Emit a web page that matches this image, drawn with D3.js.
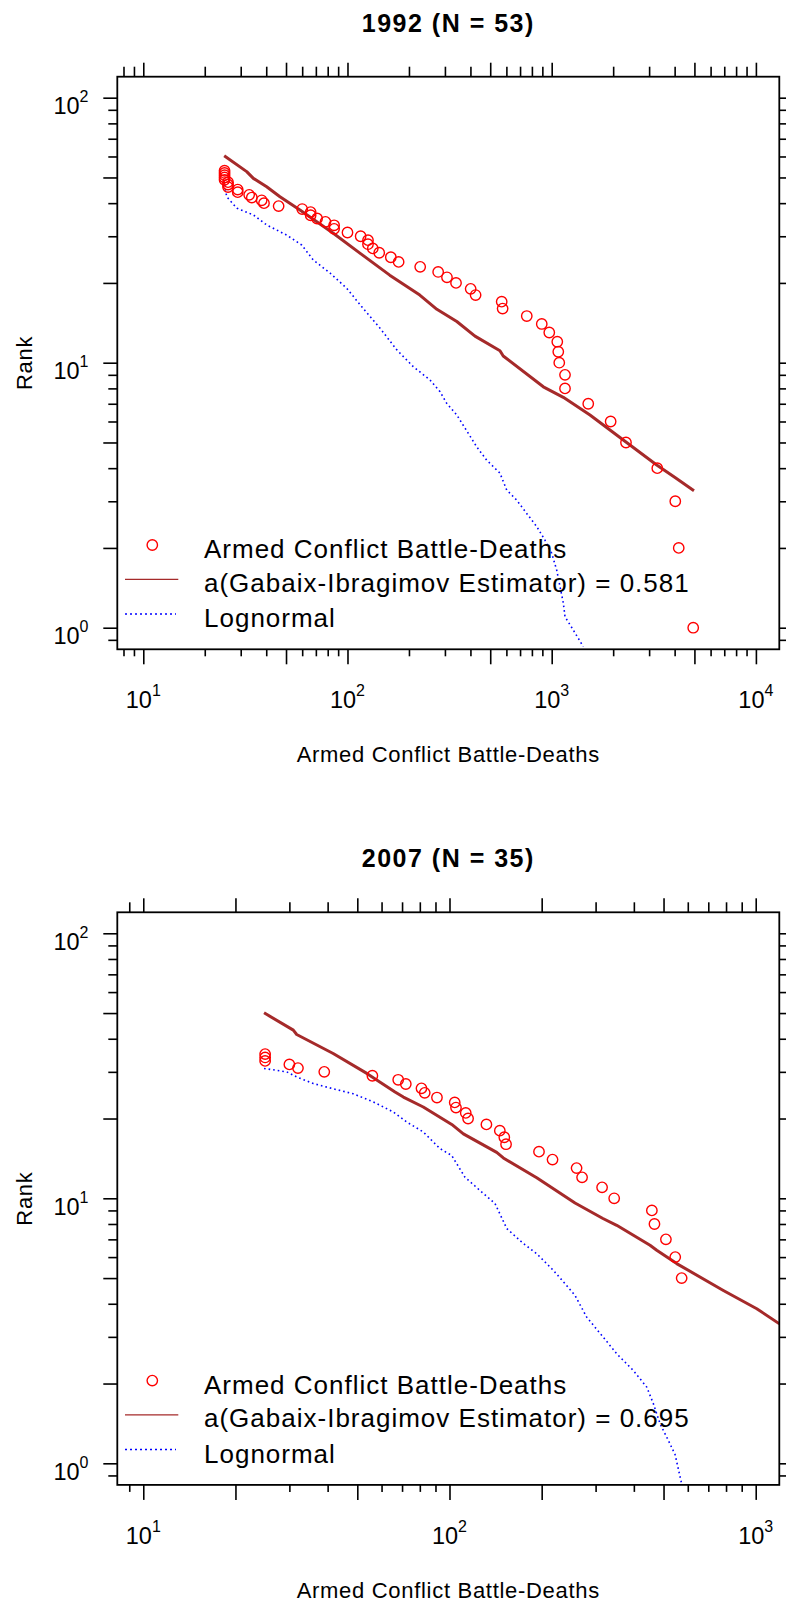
<!DOCTYPE html>
<html>
<head>
<meta charset="utf-8">
<script src="https://cdn.jsdelivr.net/npm/d3@7"></script>
<style>
    body { margin: 0; background: #fff; }
    text { font-family: "Liberation Sans", Arial, Helvetica, sans-serif; fill: #000; }
</style>
</head>
<body>
<svg id="chart" width="786" height="1603" viewBox="0 0 786 1603"></svg>
<script>
// ---- 1992 ----
const ranks1992 = [1, 2, 3, 4, 5, 6, 7, 8, 9, 10, 11, 12, 13, 14, 15, 16, 17, 18, 19, 20,
    21, 22, 23, 24, 25, 26, 27, 28, 29, 30, 31, 32, 33, 34, 35, 36, 37, 38, 39, 40,
    41, 42, 43, 44, 45, 46, 47, 48, 49, 50, 51, 52, 53];
const deaths1992 = [4932, 4189, 4029, 3289, 2311, 1944, 1510, 1162, 1162, 1089, 1077, 1065, 973, 894, 755, 575, 569, 424, 401, 340,
    307, 278, 227, 178, 163, 143, 133, 126, 126, 116, 100, 86, 86, 78, 71, 66, 66, 60, 46, 39,
    38, 34, 33, 29, 29, 26, 26, 26, 25, 25, 25, 25, 25];
const gabaixDeaths1992 = [24.9, 32.1, 34.6, 40.2, 46.7, 58.5, 85.2, 115, 161, 226, 274, 343, 421, 558, 579, 910, 1140, 1540, 2242, 3268, 4018, 4975];
const gabaixRank1992 = [60.4, 52.6, 49.6, 46.1, 42.3, 37.7, 30.8, 25.9, 21.4, 18.0, 15.9, 14.3, 12.6, 11.1, 10.6, 8.11, 7.40, 6.35, 5.11, 4.11, 3.69, 3.29];
const lognormDeaths1992 = [24.8, 25.6, 28.7, 34.6, 40.2, 50.4, 59.7, 68.0, 82.1, 99.1, 119.5, 144.3, 174, 210, 253.5, 284, 306, 343,
    390, 429, 480, 558, 602, 674, 754, 844, 927, 1000, 1058, 1098, 1140, 1162, 1276, 1428];
const lognormRank1992 = [48.9, 42.3, 38.3, 36.1, 33.1, 30.3, 27.8, 24.4, 21.8, 19.1, 16.0, 13.5, 11.2, 9.66, 8.60, 7.77, 7.03, 6.35,
    5.42, 4.82, 4.29, 3.83, 3.31, 3.03, 2.70, 2.41, 2.14, 1.91, 1.65, 1.43, 1.24, 1.10, 0.98, 0.848];
const legend1992 = ["Armed Conflict Battle-Deaths", "a(Gabaix-Ibragimov Estimator) = 0.581", "Lognormal"];

// ---- 2007 ----
const ranks2007 = [5, 6, 7, 8, 9, 10, 11, 12, 13, 14, 15, 16, 17, 18, 19, 20,
    21, 22, 23, 24, 25, 26, 27, 28, 29, 30, 31, 32, 33, 34, 35];
const deaths2007 = [573, 546, 509, 467, 458, 345, 315, 271, 260, 217, 196, 153, 151, 146, 132, 115,
    113, 105, 104, 91, 83, 81, 72, 68, 56, 39, 32, 30, 25, 25, 25];
const gabaixDeaths2007 = [24.8, 30.9, 31.7, 41.7, 53.7, 66.4, 70.7, 82.1, 101.7, 111, 142.6, 149.9, 192.7, 257, 317, 351.6, 451.7, 475, 552, 784, 1008, 1195];
const gabaixRank2007 = [50.1, 43.1, 41.5, 35.2, 29.6, 25.2, 24.1, 22.1, 19.0, 17.5, 14.9, 14.2, 11.95, 9.6, 8.39, 7.91, 6.65, 6.37, 5.67, 4.49, 3.83, 3.36];
const lognormDeaths2007 = [24.8, 29.4, 31.7, 35.9, 41.7, 48.5, 56.4, 65.4, 72.5, 82.1, 93.1, 101.7, 105.6, 112.4, 125.8, 140.8,
    153.8, 174.2, 192.7, 218.3, 238.4, 257, 280.6, 317.9, 351.6, 398.4, 440.6, 463.1, 487.1, 518.4, 545.2, 573.3];
const lognormRank2007 = [30.9, 30.0, 28.7, 27.1, 25.9, 24.8, 23.1, 21.2, 19.4, 17.8, 15.4, 14.5, 13.5, 12.0, 10.7, 9.56,
    7.69, 6.75, 6.18, 5.35, 4.76, 4.30, 3.56, 2.99, 2.59, 2.24, 1.94, 1.68, 1.41, 1.22, 1.08, 0.835];
const legend2007 = ["Armed Conflict Battle-Deaths", "a(Gabaix-Ibragimov Estimator) = 0.695", "Lognormal"];

const xLabel = "Armed Conflict Battle-Deaths";
const yLabel = "Rank";

const svg = d3.select("#chart");
const left = 117.3, right = 779.3;
const red = "#ff0000", brown = "#a52a2a", blue = "#0000ff";

function logTicks(domain, mults) {
    const out = [];
    const lo = Math.min(...domain), hi = Math.max(...domain);
    for (let e = Math.floor(Math.log10(lo)); e <= Math.ceil(Math.log10(hi)); e++) {
        mults.forEach(m => {
            const v = m * Math.pow(10, e);
            if (v >= lo && v <= hi) out.push(v);
        });
    }
    return out;
}

function drawTicks(g, axisFn, scale, domain, major, lenMinor, lenMajor) {
    const minor = [1, 2, 3, 4, 5, 6, 7, 8, 9].filter(m => major.indexOf(m) < 0);
    [[minor, lenMinor], [major, lenMajor]].forEach(([mults, len]) => {
        g.append("g")
            .call(axisFn(scale).tickValues(logTicks(domain, mults)).tickSize(len).tickFormat(""))
            .call(a => a.select(".domain").remove())
            .selectAll("line").attr("stroke", "#000").attr("stroke-width", 1.6);
    });
}

function drawPanel(p, idx) {
    const top = 76.7 + p.off, bottom = 649.3 + p.off;
    const x = d3.scaleLog().domain(p.xDomain).range([left, right]);
    const yDomain = [0.829, 120];
    const y = d3.scaleLog().domain(yDomain).range([bottom, top]);
    const yMajor = [1, 2, 5];

    const g = svg.append("g");

    // title
    g.append("text")
        .attr("x", (left + right) / 2).attr("y", 31.7 + p.off)
        .attr("text-anchor", "middle")
        .style("font-size", "25px").style("font-weight", "bold").style("letter-spacing", "1.5px")
        .text(p.title);

    // ticks on all four sides
    drawTicks(g.append("g").attr("transform", "translate(0," + bottom + ")"), d3.axisBottom, x, p.xDomain, p.xMajor, 7, 15);
    drawTicks(g.append("g").attr("transform", "translate(0," + top + ")"), d3.axisTop, x, p.xDomain, p.xMajor, 10, 14);
    drawTicks(g.append("g").attr("transform", "translate(" + left + ",0)"), d3.axisLeft, y, yDomain, yMajor, 9, 14);
    drawTicks(g.append("g").attr("transform", "translate(" + right + ",0)"), d3.axisRight, y, yDomain, yMajor, 7, 7);

    // tick labels 10^k
    const xDec = logTicks(p.xDomain, [1]);
    const xl = g.append("g").selectAll("text").data(xDec).enter().append("text")
        .attr("x", d => x(d)).attr("y", bottom + 59)
        .attr("text-anchor", "middle")
        .style("font-size", "23.5px");
    xl.append("tspan").text("10");
    xl.append("tspan").attr("dy", -12).style("font-size", "16px").text(d => Math.round(Math.log10(d)));

    const yDec = logTicks(yDomain, [1]);
    const yl = g.append("g").selectAll("text").data(yDec).enter().append("text")
        .attr("x", 88.5).attr("y", d => y(d) + 16.7)
        .attr("text-anchor", "end")
        .style("font-size", "23.5px");
    yl.append("tspan").text("10");
    yl.append("tspan").attr("dy", -12).style("font-size", "16px").text(d => Math.round(Math.log10(d)));

    // axis titles
    g.append("text")
        .attr("x", (left + right) / 2).attr("y", 762.3 + p.off)
        .attr("text-anchor", "middle")
        .style("font-size", "22px").style("letter-spacing", "0.7px")
        .text(xLabel);
    g.append("text")
        .attr("transform", "translate(31.7," + (363 + p.off) + ") rotate(-90)")
        .attr("text-anchor", "middle")
        .style("font-size", "22px").style("letter-spacing", "0.7px")
        .text(yLabel);

    // clip
    const clipId = "clip" + idx;
    svg.append("defs").append("clipPath").attr("id", clipId)
        .append("rect").attr("x", left).attr("y", top).attr("width", right - left).attr("height", bottom - top);
    const plot = g.append("g").attr("clip-path", "url(#" + clipId + ")");

    const line = d3.line().x(d => x(d[0])).y(d => y(d[1]));

    plot.append("path")
        .datum(p.lnX.map((v, i) => [v, p.lnY[i]]))
        .attr("d", line)
        .attr("fill", "none").attr("stroke", blue).attr("stroke-width", 1.6)
        .attr("stroke-dasharray", "1.6,3");

    plot.append("path")
        .datum(p.gX.map((v, i) => [v, p.gY[i]]))
        .attr("d", line)
        .attr("fill", "none").attr("stroke", brown).attr("stroke-width", 3)
        .attr("stroke-linejoin", "round");

    plot.selectAll("circle").data(p.deaths).enter().append("circle")
        .attr("cx", d => x(d)).attr("cy", (d, i) => y(p.ranks[i]))
        .attr("r", 5.2)
        .attr("fill", "none").attr("stroke", red).attr("stroke-width", 1.4);

    // box
    g.append("rect")
        .attr("x", left).attr("y", top).attr("width", right - left).attr("height", bottom - top)
        .attr("fill", "none").attr("stroke", "#000").attr("stroke-width", 1.8);

    // legend
    const lg = g.append("g").attr("transform", "translate(0," + p.off + ")");
    lg.append("circle").attr("cx", 152.3).attr("cy", 545).attr("r", 5.2)
        .attr("fill", "none").attr("stroke", red).attr("stroke-width", 1.4);
    lg.append("line").attr("x1", 125).attr("x2", 178.3).attr("y1", 579.3).attr("y2", 579.3)
        .attr("stroke", brown).attr("stroke-width", 1.3);
    lg.append("line").attr("x1", 125).attr("x2", 176).attr("y1", 614).attr("y2", 614)
        .attr("stroke", blue).attr("stroke-width", 1.5).attr("stroke-dasharray", "2,3");
    lg.selectAll("text.leg").data(p.legend).enter().append("text")
        .attr("class", "leg")
        .attr("x", 204).attr("y", (d, i) => [558.3, 591.7, 627.3][i])
        .style("font-size", "26px").style("letter-spacing", "1px")
        .text(d => d);
}

const panels = [
    { off: 0, title: "1992 (N = 53)", xDomain: [7.46, 13020], xMajor: [1, 5],
      ranks: ranks1992, deaths: deaths1992, gX: gabaixDeaths1992, gY: gabaixRank1992,
      lnX: lognormDeaths1992, lnY: lognormRank1992, legend: legend1992 },
    { off: 835.6, title: "2007 (N = 35)", xDomain: [8.226, 1194], xMajor: [1, 2, 5],
      ranks: ranks2007, deaths: deaths2007, gX: gabaixDeaths2007, gY: gabaixRank2007,
      lnX: lognormDeaths2007, lnY: lognormRank2007, legend: legend2007 }
];

panels.forEach(drawPanel);
</script>
</body>
</html>
